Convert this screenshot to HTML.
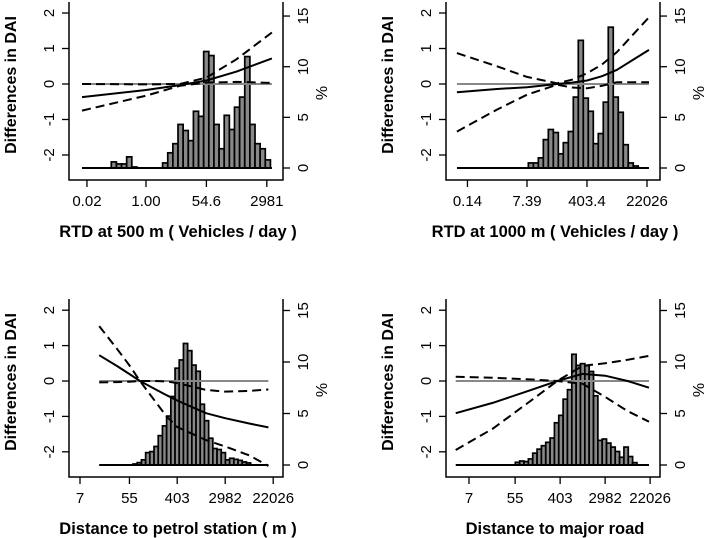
<!DOCTYPE html>
<html><head><meta charset="utf-8"><style>
html,body{margin:0;padding:0;background:#fff;}
svg{display:block;font-family:"Liberation Sans",Arial,sans-serif;}
</style></head><body>
<svg id="fig" width="708" height="538" viewBox="0 0 708 538"></svg>
<script>
// ---------- DATA ----------
// x positions are in natural-log units of the variable
const p1Ticks = [-3.91, 0, 4, 8];
const p1TickLabels = ["0.02", "1.00", "54.6", "2981"];
const p1HistStart = -2.3, p1HistWidth = 0.34;
const p1Hist = [0.6,0.4,0.4,1.1,0.1,0,0,0,0,0,0.5,1.5,2.4,4.3,3.7,2.7,5.6,5.1,11.5,11.1,4.3,1.9,5.2,3.8,6.0,7.0,11.0,4.3,2.4,1.9,0.8];
const p1CurveX = [-4.24, 0, 2.25, 4, 6, 8.34];
const p1Fit = [-0.37, -0.17, -0.03, 0.1, 0.35, 0.72];
const p1Lower = [-0.75, -0.33, -0.05, 0.04, 0.06, 0.03];
const p1Upper = [0.0, -0.01, 0.0, 0.18, 0.7, 1.45];

const p2Ticks = [-1.97, 2, 6, 10];
const p2TickLabels = ["0.14", "7.39", "403.4", "22026"];
const p2HistStart = 2.09, p2HistWidth = 0.333;
const p2Hist = [0.5,0.5,1.0,2.8,3.8,3.5,1.4,2.5,3.6,7.0,12.6,6.9,5.6,2.4,3.4,6.5,13.9,7.0,5.5,2.3,0.5,0.2];
const p2CurveX = [-2.67, 0, 2, 4, 5, 6, 7, 8, 10.13];
const p2Fit = [-0.23, -0.14, -0.09, 0, 0.04, 0.1, 0.22, 0.4, 0.96];
const p2Lower = [-1.34, -0.72, -0.3, -0.02, -0.1, -0.12, -0.05, 0.05, 0.05];
const p2Upper = [0.87, 0.5, 0.2, 0.02, 0.12, 0.3, 0.55, 0.9, 1.88];

const p3Ticks = [1.95, 4.01, 6.0, 8.0, 10.0];
const p3TickLabels = ["7", "55", "403", "2982", "22026"];
const p3HistStart = 4.16, p3HistWidth = 0.175;
const p3Hist = [0.1,0.23,0.5,1.2,1.3,1.8,2.85,3.8,4.75,6.65,9.4,10.2,11.8,11.1,9.7,9.1,5.9,4.3,2.6,1.6,1.5,1.2,0.5,0.65,0.55,0.45,0.3,0.2];
const p3CurveX = [2.75, 3.5, 4, 4.45, 5, 5.56, 6, 7.2, 8, 9, 9.8];
const p3Fit = [0.73, 0.42, 0.2, 0.0, -0.2, -0.4, -0.55, -0.91, -1.05, -1.2, -1.31];
const p3Lower = [-0.04, -0.03, -0.02, 0, 0, -0.01, -0.06, -0.25, -0.3, -0.28, -0.24];
const p3Upper = [1.55, 0.9, 0.45, 0, -0.5, -1.0, -1.3, -1.67, -1.85, -2.1, -2.4];

const p4Ticks = [1.95, 4.0, 6.0, 8.0, 10.0];
const p4TickLabels = ["7", "55", "403", "2982", "22026"];
const p4HistStart = 4.01, p4HistWidth = 0.193;
const p4Hist = [0.26,0.39,0.33,0.59,1.15,1.54,1.87,2.2,2.62,4.1,4.82,6.39,7.31,10.75,9.67,9.84,9.64,9.08,6.72,2.39,2.52,2.13,1.74,1.31,0.75,1.74,0.82,0.23];
const p4CurveX = [1.36, 3, 4.5, 5.87, 7, 8, 9, 9.95];
const p4Fit = [-0.91, -0.62, -0.3, 0, 0.2, 0.15, 0, -0.19];
const p4Lower = [-1.95, -1.35, -0.65, 0, 0.43, 0.5, 0.6, 0.71];
const p4Upper = [0.12, 0.09, 0.05, 0, -0.08, -0.45, -0.85, -1.15];

const yTicks = [2, 1, 0, -1, -2];
const pctTicks = [0, 5, 10, 15];
const xTitles = ["RTD at 500 m ( Vehicles / day )", "RTD at 1000 m ( Vehicles / day )", "Distance to petrol station ( m )", "Distance to major road"];

// ---------- LAYOUT ----------
const NS = "http://www.w3.org/2000/svg";
const svg = document.getElementById("fig");
function mk(tag, attrs, parent) {
  const e = document.createElementNS(NS, tag);
  for (const k in attrs) e.setAttribute(k, attrs[k]);
  (parent || svg).appendChild(e);
  return e;
}
const panels = [
  {ox:0,  top:2,  bottom:180, zeroY:84,  unit:35.5, pct0:168, pctU:10.13, tx0:146, txs:15.1, ln0:0,
   ticks:p1Ticks, labels:p1TickLabels, hs:p1HistStart, hw:p1HistWidth, hist:p1Hist, cx:p1CurveX, fit:p1Fit, lo:p1Lower, up:p1Upper},
  {ox:377, top:2, bottom:180, zeroY:84, unit:35.5, pct0:168, pctU:10.13, tx0:587, txs:15, ln0:6,
   ticks:p2Ticks, labels:p2TickLabels, hs:p2HistStart, hw:p2HistWidth, hist:p2Hist, cx:p2CurveX, fit:p2Fit, lo:p2Lower, up:p2Upper},
  {ox:0,  top:299, bottom:477, zeroY:381, unit:35.4, pct0:465, pctU:10.3, tx0:80, txs:24, ln0:1.95,
   ticks:p3Ticks, labels:p3TickLabels, hs:p3HistStart, hw:p3HistWidth, hist:p3Hist, cx:p3CurveX, fit:p3Fit, lo:p3Lower, up:p3Upper},
  {ox:377, top:299, bottom:477, zeroY:381, unit:35.4, pct0:465, pctU:10.3, tx0:469, txs:22.5, ln0:1.95,
   ticks:p4Ticks, labels:p4TickLabels, hs:p4HistStart, hw:p4HistWidth, hist:p4Hist, cx:p4CurveX, fit:p4Fit, lo:p4Lower, up:p4Upper}
];

panels.forEach((P, i) => {
  const g = mk("g", {});
  
  
  const L = 69 + P.ox, R = 283 + P.ox;
  const X = v => P.tx0 + (v - P.ln0) * P.txs;
  const Y = v => P.zeroY - v * P.unit;
  const YP = v => P.pct0 - v * P.pctU;

  const hg = mk("g", {}, g);
  
  
  P.hist.forEach((h, k) => {
    if (h <= 0) return;
    const x0 = X(P.hs + k * P.hw), x1 = X(P.hs + (k + 1) * P.hw);
    const r = mk("rect", {x:x0, y:YP(h), width:x1 - x0, height:YP(0) - YP(h), fill:"#888", stroke:"#000", "stroke-width":1.7}, hg);
    
    
  });
  const x0c = X(P.cx[0]), x1c = X(P.cx[P.cx.length - 1]);
  const bl = mk("line", {x1:x0c, x2:x1c, y1:YP(0), y2:YP(0), stroke:"#000", "stroke-width":2}, g);
  
  

  const zl = mk("line", {x1:x0c, x2:x1c, y1:Y(0), y2:Y(0), stroke:"#888", "stroke-width":2}, g);
  
  

  function curve(vals, dash, name) {
    const d = vals.map((v, k) => (k ? "L" : "M") + X(P.cx[k]).toFixed(1) + " " + Y(v).toFixed(1)).join(" ");
    const p = mk("path", {d:d, fill:"none", stroke:"#000", "stroke-width":2, "stroke-dasharray":dash || "none", "stroke-linejoin":"round"}, g);
    
    
  }
  curve(P.lo, "9,5", "ci-lower-line");
  curve(P.up, "9,5", "ci-upper-line");
  curve(P.fit, null, "fit-line");

  const ax = mk("path", {d:`M${L} ${P.top} V${P.bottom} H${R} V${P.top}`, fill:"none", stroke:"#000", "stroke-width":1.5}, g);
  
  

  yTicks.forEach(t => {
    const y = Y(t);
    mk("line", {x1:L - 7, x2:L, y1:y, y2:y, stroke:"#000", "stroke-width":1.3}, g);
    const tx = mk("text", {x:0, y:0, transform:`translate(${L - 15},${y}) rotate(-90)`, "text-anchor":"middle", "font-size":15}, g);
    tx.textContent = t;
    
    
  });
  pctTicks.forEach(t => {
    const y = YP(t);
    mk("line", {x1:R, x2:R + 7, y1:y, y2:y, stroke:"#000", "stroke-width":1.3}, g);
    const tx = mk("text", {x:0, y:0, transform:`translate(${R + 25},${y}) rotate(-90)`, "text-anchor":"middle", "font-size":15}, g);
    tx.textContent = t;
    
    
  });
  P.ticks.forEach((t, k) => {
    const x = X(t);
    mk("line", {x1:x, x2:x, y1:P.bottom, y2:P.bottom + 7, stroke:"#000", "stroke-width":1.3}, g);
    const tx = mk("text", {x:x, y:P.bottom + 26, "text-anchor":"middle", "font-size":15}, g);
    tx.textContent = P.labels[k];
    
    
  });
  const yt = mk("text", {x:0, y:0, transform:`translate(${L - 53},${(P.top + P.bottom) / 2 - 6}) rotate(-90)`, "text-anchor":"middle", "font-size":16, "font-weight":"bold"}, g);
  yt.textContent = "Differences in DAI";
  
  
  const pt = mk("text", {x:0, y:0, transform:`translate(${R + 44},${(P.top + P.bottom) / 2 + 2}) rotate(-90)`, "text-anchor":"middle", "font-size":16}, g);
  pt.textContent = "%";
  
  
  const xt = mk("text", {x:(L + R) / 2 + 2, y:P.bottom + 57, "text-anchor":"middle", "font-size":16.5, "font-weight":"bold"}, g);
  xt.textContent = xTitles[i];
  
  
});
</script>
</body></html>
